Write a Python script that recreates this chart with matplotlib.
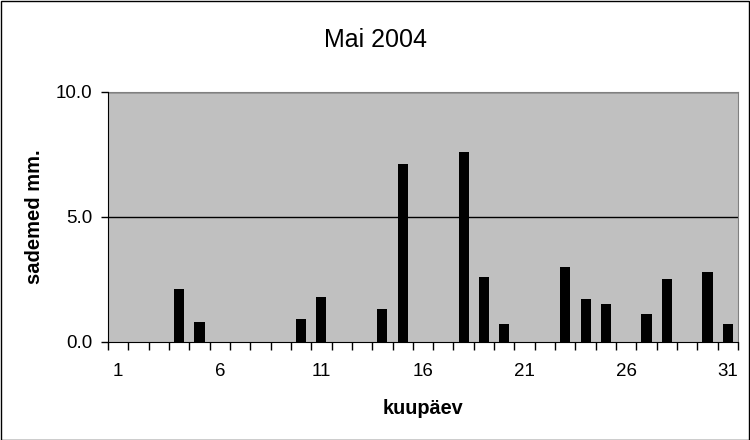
import numpy as np
import matplotlib
matplotlib.use("Agg")
import matplotlib.pyplot as plt
from matplotlib.patches import Rectangle

plt.rcParams['font.family'] = ['Liberation Sans', 'DejaVu Sans']

days = list(range(1, 32))
rain = [0, 0, 0, 2.1, 0.8, 0, 0, 0, 0, 0.9, 1.8, 0, 0, 1.3, 7.1, 0, 0, 7.6, 2.6, 0.7,
        0, 0, 3.0, 1.7, 1.5, 0, 1.1, 2.5, 0, 2.8, 0.7]
xlabels = ['1', '6', '11', '16', '21', '26', '31']
yticks = [0.0, 5.0, 10.0]

fig = plt.figure(figsize=(7.5, 4.4), dpi=100)
ax = fig.add_axes([0.144, 0.223, 0.840, 0.568])
ax.set_facecolor('#C0C0C0')

pos = np.arange(len(days))
ax.bar(pos, rain, width=0.5, color='black', zorder=3)

ax.set_xlim(-0.5, len(days) - 0.5)
ax.set_ylim(0, 10)

# ticks on category boundaries, labels at centres
ax.set_xticks(np.arange(-0.5, len(days), 1.0))
ax.set_xticklabels([])
ax.tick_params(axis='x', which='major', direction='out', length=6, width=1, color='black')
lab_pos = [days.index(int(s)) for s in xlabels]
ax.set_xticks(lab_pos, minor=True)
ax.set_xticklabels(xlabels, minor=True)
ax.tick_params(axis='x', which='minor', length=0, pad=15, labelsize=13.5)

ax.set_yticks(yticks)
ax.set_yticklabels([f'{v:.1f}' for v in yticks])
ax.tick_params(axis='y', direction='out', length=5, width=1, pad=6, labelsize=13.5)

for v in yticks[1:]:
    ax.axhline(v, color='black', lw=1, zorder=2)

for s in ['top', 'right']:
    ax.spines[s].set_color('#808080')
for s in ['left', 'bottom']:
    ax.spines[s].set_color('black')
    ax.spines[s].set_zorder(4)

ax.set_xlabel('kuupäev', fontsize=14.3, fontweight='bold', labelpad=14)
ax.set_ylabel('sademed mm.', fontsize=14.5, fontweight='bold', labelpad=9)
fig.text(0.5, 0.91, 'Mai 2004', ha='center', va='center', fontsize=18)

fig.patches.append(Rectangle((0.001, 0.001), 0.997, 0.997, transform=fig.transFigure,
                             fill=False, edgecolor='black', lw=1))

fig.savefig('out.png', dpi=100)
